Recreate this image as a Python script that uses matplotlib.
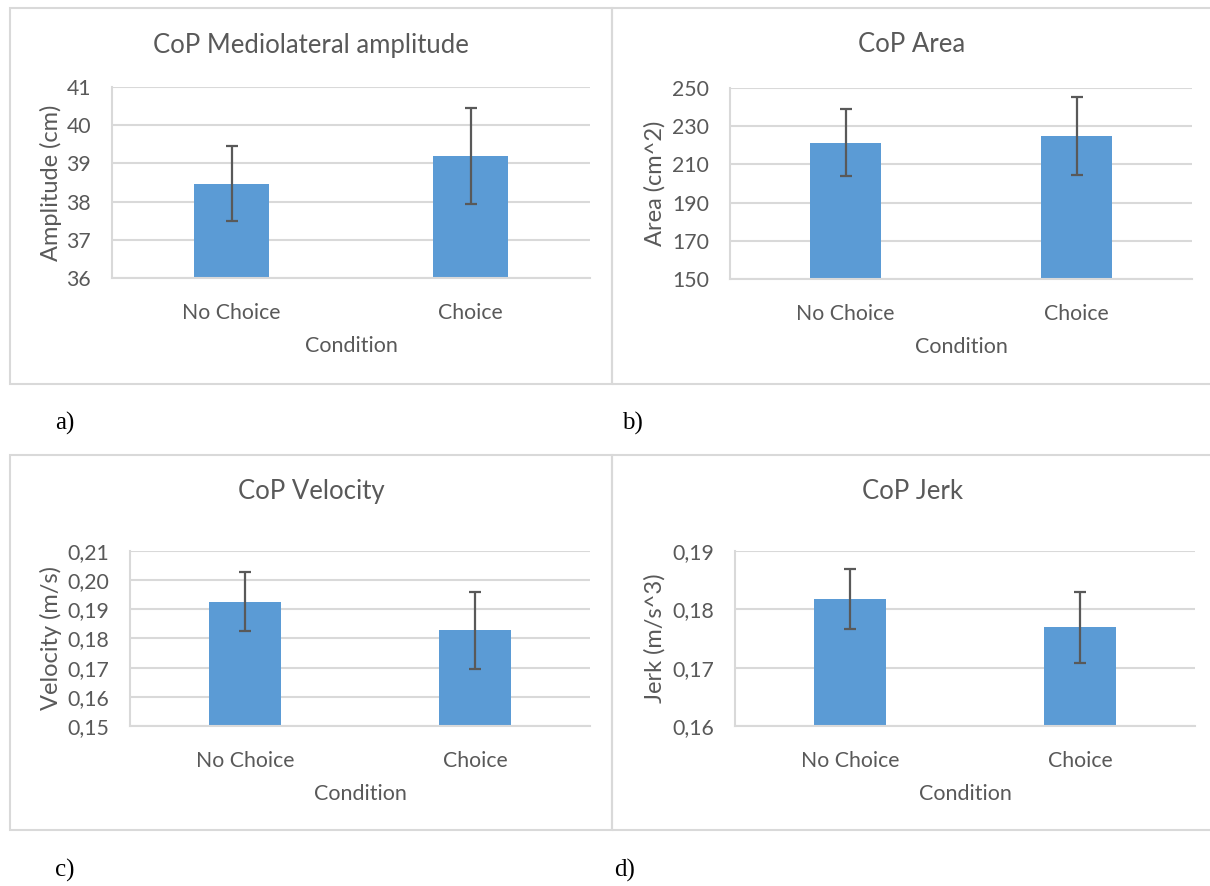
import matplotlib.pyplot as plt
from matplotlib.patches import Rectangle
from matplotlib.ticker import FuncFormatter
import numpy as np

plt.rcParams.update({
    "font.family": ["Lato", "DejaVu Sans"],
    "font.size": 15,
    "text.color": "#595959",
    "axes.labelcolor": "#595959",
    "xtick.color": "#595959",
    "ytick.color": "#595959",
})

categories = ["No Choice", "Choice"]

amp_mean = [38.47, 39.19]
amp_err = [0.98, 1.25]

area_mean = [221.4, 224.9]
area_err = [17.7, 20.2]

vel_mean = [0.1926, 0.1828]
vel_err = [0.0101, 0.0133]

jerk_mean = [0.1818, 0.1769]
jerk_err = [0.0051, 0.0061]

W, H = 1210, 886
fig = plt.figure(figsize=(W / 100, H / 100), dpi=100)

BAR = "#5B9BD5"
GRID = "#d9d9d9"
ERR = "#595959"


def fx(x):
    return x / W


def fy(y):
    return 1 - y / H


def comma(dec):
    return FuncFormatter(lambda v, p: f"{v:.{dec}f}".replace(".", ","))


# chart boxes in pixels: left, top, right, bottom
boxes = [(10, 8, 612, 384), (612, 8, 1212, 384),
         (10, 455, 612, 830), (612, 455, 1212, 830)]
for l, t, r, b in boxes:
    fig.patches.append(Rectangle((fx(l), fy(b)), fx(r - l), (b - t) / H,
                                 transform=fig.transFigure, fill=False,
                                 edgecolor=GRID, linewidth=1.5, zorder=0))

# title, ylabel, mean, err, ylim, step, decimals, plot area (l, t, r, b),
# title x/y, ylabel x, xlabel y
panels = [
    ("CoP Mediolateral amplitude", "Amplitude (cm)", amp_mean, amp_err, (36, 41), 1, 0,
     (112, 87, 590, 278), 311, 45, 51, 346),
    ("CoP Area", "Area (cm^2)", area_mean, area_err, (150, 250), 20, 0,
     (730, 88, 1192, 279), 912, 45, 655, 347),
    ("CoP Velocity", "Velocity (m/s)", vel_mean, vel_err, (0.15, 0.21), 0.01, 2,
     (130, 551, 590, 726), 311, 492, 51, 794),
    ("CoP Jerk", "Jerk (m/s^3)", jerk_mean, jerk_err, (0.16, 0.19), 0.01, 2,
     (735, 551, 1195, 726), 913, 492, 655, 794),
]

x = np.arange(len(categories))
for title, ylab, mean, err, ylim, step, dec, (l, t, r, b), tx, ty, ylx, xly in panels:
    ax = fig.add_axes([fx(l), fy(b), fx(r - l), (b - t) / H])
    ax.bar(x, np.array(mean) - ylim[0], bottom=ylim[0], width=0.31, color=BAR, zorder=2)
    ax.errorbar(x, mean, yerr=err, fmt="none", ecolor=ERR, elinewidth=1.6,
                capsize=4, capthick=1.6, zorder=3)
    ax.set_xlim(-0.5, 1.5)
    ax.set_ylim(*ylim)
    ax.set_yticks(np.arange(ylim[0], ylim[1] + step / 2, step))
    ax.yaxis.set_major_formatter(comma(dec))
    ax.set_xticks(x)
    ax.set_xticklabels(categories)
    ax.grid(axis="y", color=GRID, linewidth=1.5, zorder=0)
    ax.set_axisbelow(True)
    for s in ["top", "right"]:
        ax.spines[s].set_visible(False)
    for s in ["left", "bottom"]:
        ax.spines[s].set_color(GRID)
        ax.spines[s].set_linewidth(1.5)
    ax.tick_params(length=0, labelsize=15.3)
    ax.tick_params(axis="y", pad=15)
    ax.tick_params(axis="x", pad=18)
    ax.set_xlabel("Condition", fontsize=15.5, va="center")
    ax.xaxis.set_label_coords(0.5, (b - xly) / (b - t))
    ax.set_ylabel(ylab, fontsize=17, va="center")
    ax.yaxis.set_label_coords((ylx - l) / (r - l), 0.5)
    fig.text(fx(tx), fy(ty), title, ha="center", va="center", fontsize=18.5)

# panel letters
for lab, px, py in [("a)", 55, 423), ("b)", 622, 423), ("c)", 55, 870), ("d)", 614, 870)]:
    fig.text(fx(px), fy(py), lab, ha="left", va="center", color="black",
             family=["Liberation Serif", "DejaVu Serif"], fontsize=18)

fig.savefig("out.png", dpi=100)
